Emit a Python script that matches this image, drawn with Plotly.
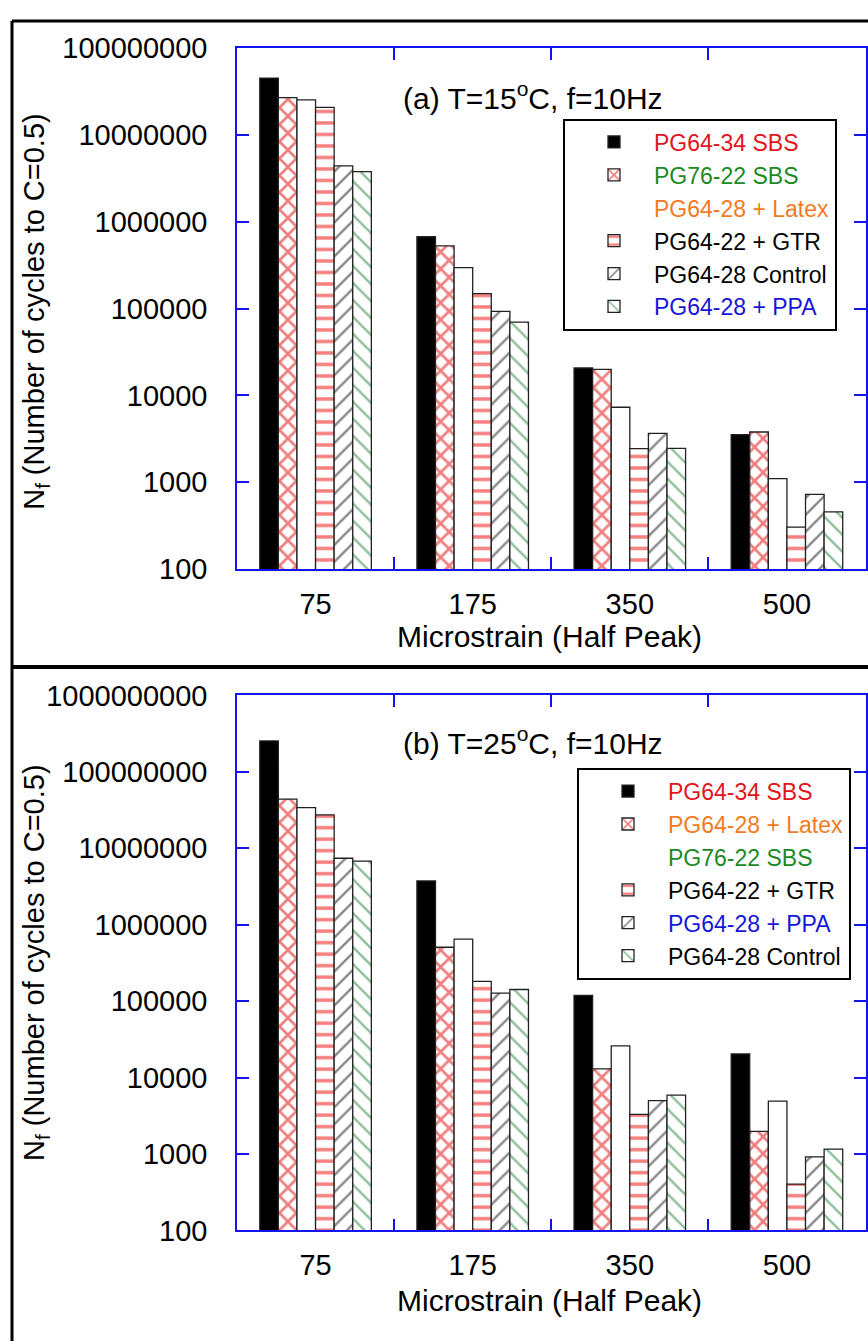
import plotly.graph_objects as go

# ---------------- data ----------------
strains = ["75", "175", "350", "500"]

# Panel (a): T=15 C, f=10 Hz  (bar order left->right)
a_names = ["PG64-34 SBS", "PG76-22 SBS", "PG64-28 + Latex",
           "PG64-22 + GTR", "PG64-28 Control", "PG64-28 + PPA"]
a_pg6434_sbs = [4.53e7, 6.73e5, 2.07e4, 3.54e3]
a_pg7622_sbs = [2.70e7, 5.29e5, 2.00e4, 3.79e3]
a_pg6428_latex = [2.54e7, 2.96e5, 7.3e3, 1.10e3]
a_pg6422_gtr = [2.08e7, 1.49e5, 2.44e3, 303]
a_pg6428_control = [4.42e6, 9.3e4, 3.66e3, 726]
a_pg6428_ppa = [3.79e6, 7.0e4, 2.46e3, 455]

# Panel (b): T=25 C, f=10 Hz
b_names = ["PG64-34 SBS", "PG64-28 + Latex", "PG76-22 SBS",
           "PG64-22 + GTR", "PG64-28 + PPA", "PG64-28 Control"]
b_pg6434_sbs = [2.54e8, 3.74e6, 1.19e5, 2.04e4]
b_pg6428_latex = [4.4e7, 5.07e5, 1.3e4, 1.97e3]
b_pg7622_sbs = [3.4e7, 6.47e5, 2.6e4, 4.9e3]
b_pg6422_gtr = [2.74e7, 1.81e5, 3.3e3, 403]
b_pg6428_ppa = [7.4e6, 1.27e5, 5.0e3, 918]
b_pg6428_control = [6.8e6, 1.42e5, 5.9e3, 1.16e3]

a_ticks = [100, 1000, 10000, 100000, 1000000, 10000000, 100000000]
b_ticks = [100, 1000, 10000, 100000, 1000000, 10000000, 100000000, 1000000000]

# ---------------- styles ----------------
FONT = "Arial, 'Liberation Sans', sans-serif"
BLUE = "#1414f0"
RED_T = "#e3141b"
GREEN_T = "#1b8a24"
ORANGE_T = "#f47a22"
BLUE_T = "#1616d8"
BLACK_T = "#000000"

bar_styles = [
    dict(color="#000000", pattern=dict(shape="")),
    dict(color="#ffffff", pattern=dict(shape="x", fgcolor="#dd0000", bgcolor="#ffffff",
                                       size=12, solidity=0.4)),
    dict(color="#ffffff", pattern=dict(shape="")),
    dict(color="#ffffff", pattern=dict(shape="-", fgcolor="#ee0000", bgcolor="#ffffff",
                                       size=11.5, solidity=0.3)),
    dict(color="#ffffff", pattern=dict(shape="/", fgcolor="#111111", bgcolor="#ffffff",
                                       size=12, solidity=0.2)),
    dict(color="#ffffff", pattern=dict(shape="\\", fgcolor="#1c7f33", bgcolor="#ffffff",
                                       size=12, solidity=0.2)),
]

a_series = [a_pg6434_sbs, a_pg7622_sbs, a_pg6428_latex, a_pg6422_gtr, a_pg6428_control, a_pg6428_ppa]
a_colors = [RED_T, GREEN_T, ORANGE_T, BLACK_T, BLACK_T, BLUE_T]
b_series = [b_pg6434_sbs, b_pg6428_latex, b_pg7622_sbs, b_pg6422_gtr, b_pg6428_ppa, b_pg6428_control]
b_colors = [RED_T, ORANGE_T, GREEN_T, BLACK_T, BLUE_T, BLACK_T]

fig = go.Figure()


def add_panel(series, names, colors, xa, ya, legend, gid):
    for i, (vals, name, col) in enumerate(zip(series, names, colors)):
        st = bar_styles[i]
        label = f"<span style='color:{col}'>{name}</span>"
        blank = (i == 2)
        fig.add_trace(go.Bar(
            x=strains, y=vals, name=label,
            xaxis=xa, yaxis=ya, legend=legend,
            legendgroup=f"{gid}{i}", legendrank=i + 1,
            showlegend=not blank,
            marker=dict(color=st["color"], pattern=st["pattern"],
                        line=dict(color="#222222", width=1.3)),
            hoverinfo="skip",
        ))
        if blank:
            fig.add_trace(go.Scatter(
                x=[None], y=[None], name=label, mode="markers",
                xaxis=xa, yaxis=ya, legend=legend,
                legendgroup=f"{gid}{i}", legendrank=i + 1,
                marker=dict(color="rgba(0,0,0,0)", size=12),
                hoverinfo="skip",
            ))


add_panel(a_series, a_names, a_colors, "x", "y", "legend", "a")
add_panel(b_series, b_names, b_colors, "x2", "y2", "legend2", "b")

W, H = 868, 1344


def px(x):
    return x / W


def py(y):
    return 1 - y / H


xdom = [px(237), px(865.5)]
axis_common = dict(showline=True, linecolor=BLUE, linewidth=1.5, mirror="ticks",
                   ticks="inside", ticklen=12, tickcolor=BLUE, tickwidth=1.5,
                   showgrid=False, zeroline=False,
                   tickfont=dict(family=FONT, size=29, color="black"))

x_common = dict(axis_common, type="category", categoryorder="array",
                categoryarray=strains, tickson="boundaries", range=[-0.5, 3.5],
                ticklabelstandoff=8)

legend_common = dict(xanchor="left", yanchor="top", bgcolor="white",
                     bordercolor="black", borderwidth=2,
                     font=dict(family=FONT, size=23), traceorder="normal",
                     itemwidth=70, indentation=9)

fig.update_layout(
    width=W, height=H,
    margin=dict(l=0, r=0, t=0, b=0),
    paper_bgcolor="white", plot_bgcolor="white",
    barmode="group", bargap=0.29, bargroupgap=0.0,
    font=dict(family=FONT, color="black"),
    xaxis=dict(x_common, domain=xdom, anchor="y"),
    yaxis=dict(axis_common, type="log", range=[2, 8], domain=[py(566.5), py(33)],
               anchor="x", tickvals=a_ticks, ticktext=[str(v) for v in a_ticks],
               ticklabelstandoff=22),
    xaxis2=dict(x_common, domain=xdom, anchor="y2"),
    yaxis2=dict(axis_common, type="log", range=[2, 9], domain=[py(1244), py(696)],
                anchor="x2", tickvals=b_ticks, ticktext=[str(v) for v in b_ticks],
                ticklabelstandoff=22),
    legend=dict(legend_common, x=px(563), y=py(105), tracegroupgap=4),
    legend2=dict(legend_common, x=px(577), y=py(770), tracegroupgap=8),
    showlegend=True,
)

ann_font = dict(family=FONT, size=30, color="black")
fig.add_annotation(text="(a) T=15<sup>o</sup>C, f=10Hz", xref="paper", yref="paper",
                   x=px(401), y=py(82), xanchor="left", yanchor="middle",
                   showarrow=False, font=dict(family=FONT, size=30, color="black"))
fig.add_annotation(text="(b) T=25<sup>o</sup>C, f=10Hz", xref="paper", yref="paper",
                   x=px(401), y=py(743), xanchor="left", yanchor="middle",
                   showarrow=False, font=dict(family=FONT, size=30, color="black"))
for yc in (636, 1316):
    fig.add_annotation(text="Microstrain (Half Peak)", xref="paper", yref="paper",
                       x=px(549), y=py(yc), xanchor="center", yanchor="middle",
                       showarrow=False, font=ann_font)
for yc in (303, 970):
    fig.add_annotation(text="N<sub>f</sub> (Number of cycles to C=0.5)",
                       xref="paper", yref="paper", textangle=-90,
                       x=px(36), y=py(yc), xanchor="center", yanchor="middle",
                       showarrow=False, font=dict(family=FONT, size=29, color="black"))

# outer frames of the two panels
frame = dict(type="line", xref="paper", yref="paper", line=dict(color="black", width=3))
fig.add_shape(frame, x0=px(12), x1=1.01, y0=py(5), y1=py(5))
fig.add_shape(frame, x0=px(12), x1=px(12), y0=py(5), y1=-0.01)
fig.add_shape(dict(frame, line=dict(color="black", width=4)),
              x0=px(12), x1=1.01, y0=py(667), y1=py(667))

fig.write_html("out.html")
